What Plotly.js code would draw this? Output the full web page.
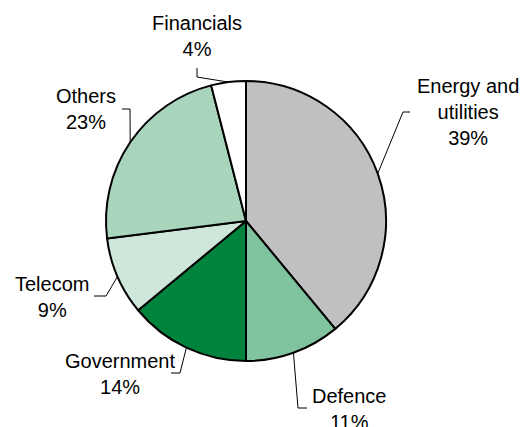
<!DOCTYPE html>
<html>
<head>
<meta charset="utf-8">
<script src="https://cdn.plot.ly/plotly-3.0.1.min.js"></script>
<style>html,body{margin:0;padding:0;background:#fff;}#chart{width:525px;height:427px;}</style>
</head>
<body>
<div id="chart"></div>
<script>
// ---- data ----
const categories = ['Energy and utilities', 'Defence', 'Government', 'Telecom', 'Others', 'Financials'];
const labelLines = ['Energy and<br>utilities', 'Defence', 'Government', 'Telecom', 'Others', 'Financials'];
const shares = [39, 11, 14, 9, 23, 4];
const sliceColors = ['#c0c0c0', '#80c49f', '#00843d', '#cfe7da', '#a9d5bd', '#ffffff'];

// ---- layout (pixels) ----
const W = 525, H = 427;
const cx = 246, cy = 221, R = 140;
// label centre and leader elbow/end for each category
const labelPos = [
  {x: 468, y: 112, elbow: [403, 112], end: [410, 112]},
  {x: 349, y: 408.5, elbow: [298, 408], end: [307, 408]},
  {x: 119.5, y: 374, elbow: [180, 373], end: [171, 373]},
  {x: 51.5, y: 296.5, elbow: [106, 296], end: [94, 296]},
  {x: 86.5, y: 109, elbow: [130, 109], end: [122, 109]},
  {x: 196.5, y: 36.5, elbow: [197, 77], end: [197, 68]}
];

const px = v => v / W;
const py = v => 1 - v / H;

const total = shares.reduce((a, b) => a + b, 0);
let cum = 0;
const shapes = [];
const annotations = [];
shares.forEach((v, i) => {
  const mid = (cum + v / 2) / total * 2 * Math.PI; // clockwise from 12 o'clock
  cum += v;
  const rx = cx + R * Math.sin(mid);
  const ry = cy - R * Math.cos(mid);
  const p = labelPos[i];
  shapes.push({
    type: 'path', xref: 'paper', yref: 'paper',
    path: `M ${px(rx)} ${py(ry)} L ${px(p.elbow[0])} ${py(p.elbow[1])} L ${px(p.end[0])} ${py(p.end[1])}`,
    line: {color: '#000000', width: 1}
  });
  annotations.push({
    xref: 'paper', yref: 'paper', x: px(p.x), y: py(p.y),
    xanchor: 'center', yanchor: 'middle', showarrow: false,
    text: labelLines[i] + '<br>' + v + '%',
    align: 'center',
    font: {family: 'Liberation Sans, Arial, sans-serif', size: 20, color: '#000000'}
  });
});

const trace = {
  type: 'pie',
  labels: categories,
  values: shares,
  sort: false,
  direction: 'clockwise',
  rotation: 0,
  textinfo: 'none',
  hoverinfo: 'label+percent',
  marker: {colors: sliceColors, line: {color: '#000000', width: 2}},
  domain: {x: [px(cx - R), px(cx + R)], y: [py(cy + R), py(cy - R)]},
  showlegend: false
};

const layout = {
  width: W, height: H,
  margin: {l: 0, r: 0, t: 0, b: 0},
  paper_bgcolor: '#ffffff',
  plot_bgcolor: '#ffffff',
  showlegend: false,
  shapes: shapes,
  annotations: annotations
};

Plotly.newPlot('chart', [trace], layout, {displayModeBar: false, staticPlot: true});
</script>
</body>
</html>
